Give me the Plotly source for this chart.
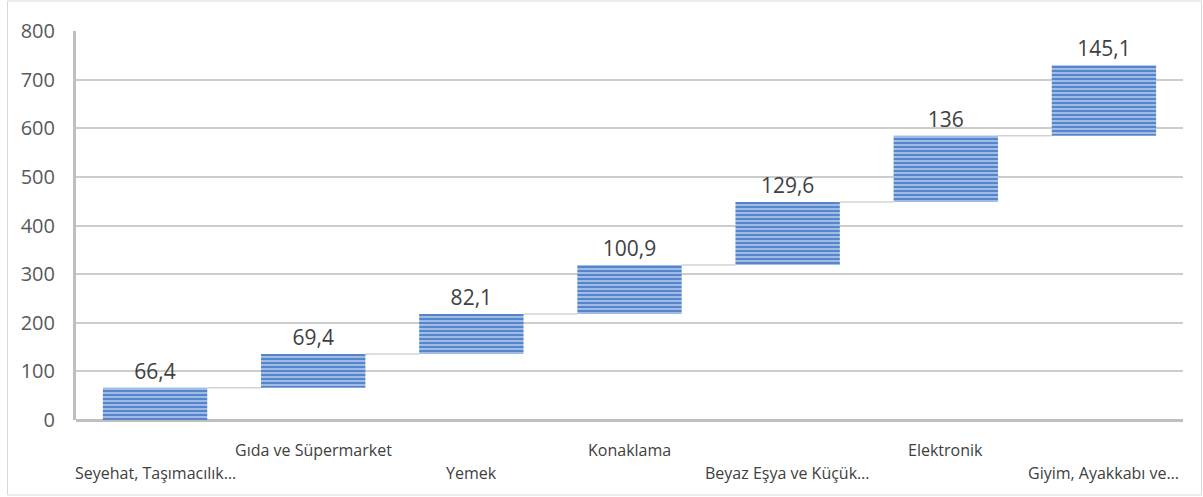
import plotly.graph_objects as go

categories = ["Seyehat, Taşımacılık…", "Gıda ve Süpermarket", "Yemek", "Konaklama",
              "Beyaz Eşya ve Küçük…", "Elektronik", "Giyim, Ayakkabı ve…"]
values = [66.4, 69.4, 82.1, 100.9, 129.6, 136, 145.1]
y_ticks = [0, 100, 200, 300, 400, 500, 600, 700, 800]

# cumulative bases
bases = []
total = 0
for v in values:
    bases.append(total)
    total += v
ends = [b + v for b, v in zip(bases, values)]
labels = [f"{v:g}".replace(".", ",") for v in values]

W, H = 1203, 497
L, R, T, B = 76, 20, 31, 77
PW, PH = W - L - R, H - T - B
BAR_W = 0.66

fig = go.Figure()
fig.add_trace(go.Bar(
    x=list(range(len(categories))), y=values, base=bases,
    width=BAR_W,
    marker=dict(color="#5585cc",
                line=dict(width=0),
                pattern=dict(shape="-", fgcolor="#b3caec", bgcolor="#5585cc",
                             size=4, solidity=0.4, fillmode="replace")),
    text=labels, textposition="outside",
    textfont=dict(family="Open Sans", size=21, color="#404040"),
    cliponaxis=False, showlegend=False, hoverinfo="skip",
))

shapes = []
# connectors between bars
for i in range(len(values) - 1):
    shapes.append(dict(type="line", xref="x", yref="y",
                       x0=i + BAR_W / 2, x1=i + 1 - BAR_W / 2,
                       y0=ends[i], y1=ends[i],
                       line=dict(color="#d3d3d3", width=1.5), layer="below"))
# outer border
shapes.append(dict(type="rect", xref="paper", yref="paper",
                   x0=(7.5 - L) / PW, x1=(1201.5 - L) / PW,
                   y0=(PH - (495 - T)) / PH, y1=(PH - (1 - T)) / PH,
                   line=dict(color="#d9d9d9", width=1)))

annotations = []
for i, c in enumerate(categories):
    annotations.append(dict(x=i, y=0, xref="x", yref="paper", text=c,
                            showarrow=False, xanchor="center", yanchor="middle",
                            yshift=-(30 if i % 2 == 1 else 53),
                            font=dict(family="Open Sans", size=16, color="#404040")))

fig.update_layout(
    width=W, height=H,
    margin=dict(l=L, r=R, t=T, b=B),
    paper_bgcolor="white", plot_bgcolor="white",
    bargap=1 - BAR_W,
    xaxis=dict(range=[-0.5, len(categories) - 0.5], showticklabels=False,
               showgrid=False, zeroline=False, showline=False, ticks=""),
    yaxis=dict(range=[0, 800], tickvals=y_ticks, showgrid=True,
               gridcolor="#cccccc", gridwidth=1.5,
               zeroline=True, zerolinecolor="#bfbfbf", zerolinewidth=3,
               showline=True, linecolor="#bfbfbf", linewidth=3,
               ticks="", ticklabelstandoff=14,
               tickfont=dict(family="Open Sans", size=20, color="#595959")),
    shapes=shapes, annotations=annotations,
)

fig.write_html("out.html", config={"displayModeBar": False},
               post_script="document.body.style.margin='0';")
